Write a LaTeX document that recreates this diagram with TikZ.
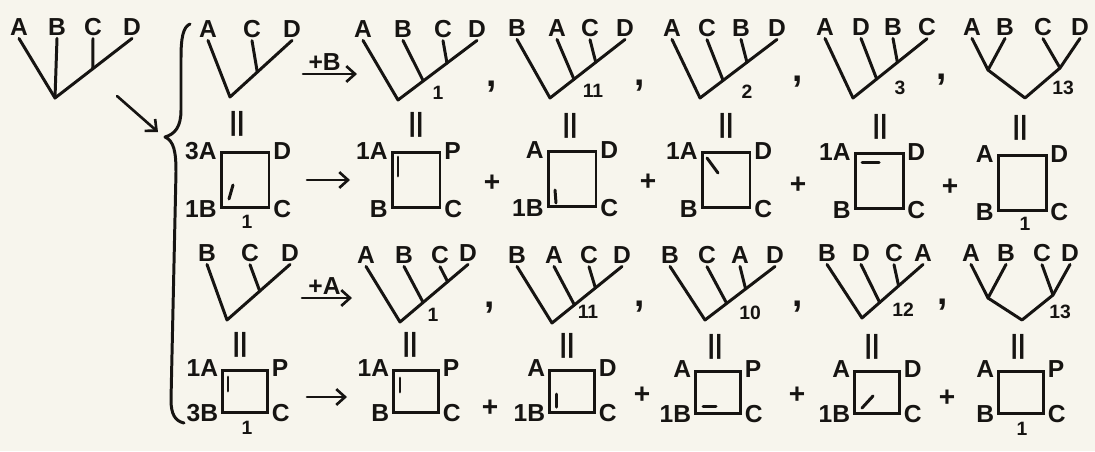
\documentclass[tikz,border=0pt]{standalone}
\usepackage{fontspec}
\setmainfont{Liberation Sans}
\usetikzlibrary{arrows.meta,calc}
\definecolor{ink}{RGB}{22,20,18}
\definecolor{paper}{RGB}{247,245,237}

\begin{document}
\begin{tikzpicture}[x=0.02cm,y=-0.02cm]
\tikzset{
  LT/.style={font=\fontsize{14}{16}\selectfont\bfseries,text=ink,inner sep=1.5pt},
  NO/.style={font=\fontsize{11}{12}\selectfont\bfseries,text=ink,inner sep=1pt},
  EQ/.style={font=\fontsize{15}{16}\selectfont\bfseries,text=ink,inner sep=0pt},
  PL/.style={font=\fontsize{16}{16}\selectfont\bfseries,text=ink,inner sep=0pt},
  CM/.style={font=\fontsize{21}{21}\selectfont\bfseries,text=ink,inner sep=0pt},
  BR/.style={draw=ink,line width=1.7pt,line cap=round,line join=round},
  SQ/.style={draw=ink,line width=1.7pt,rectangle,minimum width=0.96cm,minimum height=1.1cm,inner sep=0pt},
  SQs/.style={SQ,minimum width=0.9cm,minimum height=0.84cm},
  MK/.style={draw=ink,line width=1.7pt,line cap=round},
  AR/.style={-{Straight Barb[length=5pt,width=9pt]},draw=ink,line width=1.5pt,line cap=round},
}
\fill[paper] (0,0) rectangle (1095,451);
\useasboundingbox (0,0) rectangle (1095,451);

\node[LT](sA) at (19,27){A};
\node[LT](sB) at (57,27){B};
\node[LT](sC) at (93,27){C};
\node[LT](sD) at (132,27){D};
\coordinate(sr) at (55,98);
\draw[BR](sA.south)--(sr)--(sD.south);
\draw[BR](sB.south)--(sr);
\draw[BR](sC.south)--($(sr)!0.49!(sD.south)$);

\coordinate(k1) at (117,96);
\coordinate(k2) at (158,132);
\draw[AR](k1)--(k2);

\draw[BR](190,24) .. controls (183,27) and (181,38) .. (181,58) -- (181,110)
  .. controls (181,127) and (175,134) .. (165,137)
  .. controls (174,141) and (176,152) .. (176,172) -- (171,400)
  .. controls (171,414) and (175,421) .. (184,423);

\node[LT](u0A) at (208,29){A};
\node[LT](u0C) at (252,29){C};
\node[LT](u0D) at (292,29){D};
\coordinate(u0r) at (230,97);
\draw[BR](u0A.south)--(u0r)--(u0D.south);
\draw[BR](u0C.south)--($(u0r)!0.44!(u0D.south)$);

\coordinate(k3) at (303,74);
\coordinate(k4) at (357,74);
\draw[AR](k3)--node[LT,above,pos=0.4]{+B}(k4);

\node[LT](u1A) at (363,29){A};
\node[LT](u1B) at (403,29){B};
\node[LT](u1C) at (443,29){C};
\node[LT](u1D) at (477,29){D};
\coordinate(u1r) at (398,100);
\draw[BR](u1A.south)--(u1r)--(u1D.south);
\draw[BR](u1B.south)--($(u1r)!0.32!(u1D.south)$);
\draw[BR](u1C.south)--($(u1r)!0.62!(u1D.south)$);
\node[NO](u1n) at (438,93){1};
\node[CM](c1) at (492,87){,};

\node[LT](u2B) at (517,28){B};
\node[LT](u2A) at (557,28){A};
\node[LT](u2C) at (590,28){C};
\node[LT](u2D) at (625,28){D};
\coordinate(u2r) at (550,98);
\draw[BR](u2B.south)--(u2r)--(u2D.south);
\draw[BR](u2A.south)--($(u2r)!0.32!(u2D.south)$);
\draw[BR](u2C.south)--($(u2r)!0.61!(u2D.south)$);
\node[NO](u2n) at (593,91){11};
\node[CM](c2) at (640,86){,};

\node[LT](u3A) at (672,28){A};
\node[LT](u3C) at (707,28){C};
\node[LT](u3B) at (741,28){B};
\node[LT](u3D) at (777,28){D};
\coordinate(u3r) at (700,98);
\draw[BR](u3A.south)--(u3r)--(u3D.south);
\draw[BR](u3C.south)--($(u3r)!0.30!(u3D.south)$);
\draw[BR](u3B.south)--($(u3r)!0.61!(u3D.south)$);
\node[NO](u3n) at (747,92){2};
\node[CM](c3) at (798,82){,};

\node[LT](u4A) at (825,27){A};
\node[LT](u4D) at (861,27){D};
\node[LT](u4B) at (893,27){B};
\node[LT](u4C) at (927,27){C};
\coordinate(u4r) at (853,98);
\draw[BR](u4A.south)--(u4r)--(u4C.south);
\draw[BR](u4D.south)--($(u4r)!0.32!(u4C.south)$);
\draw[BR](u4B.south)--($(u4r)!0.60!(u4C.south)$);
\node[NO](u4n) at (900,88){3};
\node[CM](c4) at (942,80){,};

\node[LT](u5A) at (972,27){A};
\node[LT](u5B) at (1005,27){B};
\node[LT](u5C) at (1043,27){C};
\node[LT](u5D) at (1080,27){D};
\coordinate(u5l) at (988,70);
\coordinate(u5m) at (1060,68);
\coordinate(u5r) at (1025,98);
\draw[BR](u5A.south)--(u5l)--(u5r)--(u5m)--(u5D.south);
\draw[BR](u5B.south)--(u5l);
\draw[BR](u5C.south)--(u5m);
\node[NO](u5n) at (1063,88){13};

\node[EQ](e0) at (237,124){||};
\node[EQ](e1) at (416,125){||};
\node[EQ](e2) at (570,126){||};
\node[EQ](e3) at (726,126){||};
\node[EQ](e4) at (880,127){||};
\node[EQ](e5) at (1020,128){||};

\node[SQ](p0) at (245,180){};
\node[LT,anchor=east](p0A) at (p0.north west){3A};
\node[LT,anchor=west](p0D) at (p0.north east){D};
\node[LT,anchor=east](p0B) at (p0.south west){1B};
\node[LT,anchor=west](p0C) at (p0.south east){C};
\draw[MK](233,185)--(229,199);
\node[NO](p0n) at (247,222){1};

\coordinate(k5) at (307,180);
\coordinate(k6) at (350,180);
\draw[AR](k5)--(k6);

\node[SQ](p1) at (416,180){};
\node[LT,anchor=east](p1A) at (p1.north west){1A};
\node[LT,anchor=west](p1D) at (p1.north east){P};
\node[LT,anchor=east](p1B) at (p1.south west){B};
\node[LT,anchor=west](p1C) at (p1.south east){C};
\draw[MK](398,157)--(398,176);
\node[PL](g1) at (492,183){+};

\node[SQ](p2) at (572,179){};
\node[LT,anchor=east](p2A) at (p2.north west){A};
\node[LT,anchor=west](p2D) at (p2.north east){D};
\node[LT,anchor=east](p2B) at (p2.south west){1B};
\node[LT,anchor=west](p2C) at (p2.south east){C};
\draw[MK](555,190)--(556,203);
\node[PL](g2) at (648,182){+};

\node[SQ](p3) at (726,180){};
\node[LT,anchor=east](p3A) at (p3.north west){1A};
\node[LT,anchor=west](p3D) at (p3.north east){D};
\node[LT,anchor=east](p3B) at (p3.south west){B};
\node[LT,anchor=west](p3C) at (p3.south east){C};
\draw[MK](707,158)--(718,173);
\node[PL](g3) at (798,185){+};

\node[SQ](p4) at (879,181){};
\node[LT,anchor=east](p4A) at (p4.north west){1A};
\node[LT,anchor=west](p4D) at (p4.north east){D};
\node[LT,anchor=east](p4B) at (p4.south west){B};
\node[LT,anchor=west](p4C) at (p4.south east){C};
\draw[MK](862,162)--(879,162);
\node[PL](g4) at (950,187){+};

\node[SQ](p5) at (1022,183){};
\node[LT,anchor=east](p5A) at (p5.north west){A};
\node[LT,anchor=west](p5D) at (p5.north east){D};
\node[LT,anchor=east](p5B) at (p5.south west){B};
\node[LT,anchor=west](p5C) at (p5.south east){C};
\node[NO](p5n) at (1025,224){1};

\node[LT](w0B) at (207,253){B};
\node[LT](w0C) at (250,253){C};
\node[LT](w0D) at (290,253){D};
\coordinate(w0r) at (227,320);
\draw[BR](w0B.south)--(w0r)--(w0D.south);
\draw[BR](w0C.south)--($(w0r)!0.52!(w0D.south)$);

\coordinate(k7) at (302,298);
\coordinate(k8) at (352,298);
\draw[AR](k7)--node[LT,above,pos=0.45]{+A}(k8);

\node[LT](w1A) at (366,255){A};
\node[LT](w1B) at (404,255){B};
\node[LT](w1C) at (440,255){C};
\node[LT](w1D) at (468,253){D};
\coordinate(w1r) at (400,322);
\draw[BR](w1A.south)--(w1r)--(w1D.south);
\draw[BR](w1B.south)--($(w1r)!0.34!(w1D.south)$);
\draw[BR](w1C.south)--($(w1r)!0.70!(w1D.south)$);
\node[NO](w1n) at (433,315){1};
\node[CM](d1) at (490,308){,};

\node[LT](w2B) at (517,255){B};
\node[LT](w2A) at (554,255){A};
\node[LT](w2C) at (589,255){C};
\node[LT](w2D) at (622,255){D};
\coordinate(w2r) at (552,323);
\draw[BR](w2B.south)--(w2r)--(w2D.south);
\draw[BR](w2A.south)--($(w2r)!0.32!(w2D.south)$);
\draw[BR](w2C.south)--($(w2r)!0.62!(w2D.south)$);
\node[NO](w2n) at (588,312){11};
\node[CM](d2) at (640,307){,};

\node[LT](w3B) at (670,255){B};
\node[LT](w3C) at (707,255){C};
\node[LT](w3A) at (740,255){A};
\node[LT](w3D) at (775,255){D};
\coordinate(w3r) at (705,320);
\draw[BR](w3B.south)--(w3r)--(w3D.south);
\draw[BR](w3C.south)--($(w3r)!0.31!(w3D.south)$);
\draw[BR](w3A.south)--($(w3r)!0.58!(w3D.south)$);
\node[NO](w3n) at (750,313){10};
\node[CM](d3) at (798,307){,};

\node[LT](w4B) at (827,253){B};
\node[LT](w4D) at (861,253){D};
\node[LT](w4C) at (894,253){C};
\node[LT](w4A) at (923,253){A};
\coordinate(w4r) at (862,318);
\draw[BR](w4B.south)--(w4r)--(w4A.south);
\draw[BR](w4D.south)--($(w4r)!0.29!(w4A.south)$);
\draw[BR](w4C.south)--($(w4r)!0.60!(w4A.south)$);
\node[NO](w4n) at (903,310){12};
\node[CM](d4) at (943,305){,};

\node[LT](w5A) at (971,253){A};
\node[LT](w5B) at (1006,253){B};
\node[LT](w5C) at (1042,253){C};
\node[LT](w5D) at (1070,253){D};
\coordinate(w5l) at (988,298);
\coordinate(w5m) at (1053,295);
\coordinate(w5r) at (1022,320);
\draw[BR](w5A.south)--(w5l)--(w5r)--(w5m)--(w5D.south);
\draw[BR](w5B.south)--(w5l);
\draw[BR](w5C.south)--(w5m);
\node[NO](w5n) at (1060,312){13};

\node[EQ](f0) at (240,345){||};
\node[EQ](f1) at (410,345){||};
\node[EQ](f2) at (567,346){||};
\node[EQ](f3) at (715,347){||};
\node[EQ](f4) at (872,347){||};
\node[EQ](f5) at (1018,347){||};

\node[SQs](q0) at (245,391){};
\node[LT,anchor=east](q0A) at (q0.north west){1A};
\node[LT,anchor=west](q0D) at (q0.north east){P};
\node[LT,anchor=east](q0B) at (q0.south west){3B};
\node[LT,anchor=west](q0C) at (q0.south east){C};
\draw[MK](228,377)--(228,391);
\node[NO](q0n) at (247,428){1};

\coordinate(k9) at (307,397);
\coordinate(k10) at (347,397);
\draw[AR](k9)--(k10);

\node[SQs](q1) at (416,391){};
\node[LT,anchor=east](q1A) at (q1.north west){1A};
\node[LT,anchor=west](q1D) at (q1.north east){P};
\node[LT,anchor=east](q1B) at (q1.south west){B};
\node[LT,anchor=west](q1C) at (q1.south east){C};
\draw[MK](400,378)--(400,392);
\node[PL](h1) at (490,408){+};

\node[SQs](q2) at (572,391){};
\node[LT,anchor=east](q2A) at (q2.north west){A};
\node[LT,anchor=west](q2D) at (q2.north east){D};
\node[LT,anchor=east](q2B) at (q2.south west){1B};
\node[LT,anchor=west](q2C) at (q2.south east){C};
\draw[MK](556,394)--(556,407);
\node[PL](h2) at (642,395){+};

\node[SQs](q3) at (718,392){};
\node[LT,anchor=east](q3A) at (q3.north west){A};
\node[LT,anchor=west](q3D) at (q3.north east){P};
\node[LT,anchor=east](q3B) at (q3.south west){1B};
\node[LT,anchor=west](q3C) at (q3.south east){C};
\draw[MK](703,406)--(716,406);
\node[PL](h3) at (797,395){+};

\node[SQs](q4) at (877,392){};
\node[LT,anchor=east](q4A) at (q4.north west){A};
\node[LT,anchor=west](q4D) at (q4.north east){D};
\node[LT,anchor=east](q4B) at (q4.south west){1B};
\node[LT,anchor=west](q4C) at (q4.south east){C};
\draw[MK](862,408)--(873,396);
\node[PL](h4) at (947,398){+};

\node[SQs](q5) at (1021,392){};
\node[LT,anchor=east](q5A) at (q5.north west){A};
\node[LT,anchor=west](q5D) at (q5.north east){P};
\node[LT,anchor=east](q5B) at (q5.south west){B};
\node[LT,anchor=west](q5C) at (q5.south east){C};
\node[NO](q5n) at (1022,429){1};

\end{tikzpicture}
\end{document}
